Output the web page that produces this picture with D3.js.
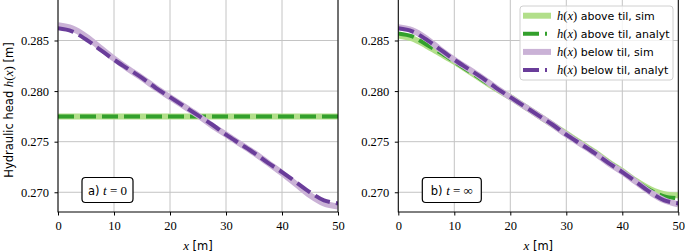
<!DOCTYPE html>
<html>
<head>
<meta charset="utf-8">
<script src="https://cdn.jsdelivr.net/npm/d3@7"></script>
<style>
  body { margin: 0; background: #fff; }
  svg { display: block; }
  .tick-lbl { font-family: "Liberation Serif", serif; font-size: 12.5px; fill: #000; }
  .sans { font-family: "DejaVu Sans", sans-serif; }
  .math { font-family: "Liberation Serif", serif; font-style: italic; }
</style>
</head>
<body>
<div id="chart"></div>
<script>
// ---- data ----
const xs = [0, 2.5, 5, 7.5, 10, 12.5, 15, 17.5, 20, 22.5, 25, 27.5, 30, 32.5, 35, 37.5, 40, 42.5, 45, 47.5, 50];

// panel a) t = 0
const aboveX0 = [0, 50];
const aboveSimT0 = [0.2775, 0.2775];
const aboveAnalytT0 = [0.2775, 0.2775];
const belowSimT0 = [0.2865, 0.2862, 0.2854, 0.2843, 0.2832, 0.2822, 0.2813, 0.2803, 0.2794, 0.2785, 0.2776,
                    0.2766, 0.2757, 0.2748, 0.2739, 0.2729, 0.2719, 0.2708, 0.2697, 0.2689, 0.2686];
const belowAnalytT0 = [0.2862, 0.2859, 0.2851, 0.2841, 0.2831, 0.2822, 0.2813, 0.2803, 0.2794, 0.2785, 0.2776,
                       0.2767, 0.2757, 0.2748, 0.2739, 0.2729, 0.2720, 0.2710, 0.2700, 0.2692, 0.2689];

// panel b) t = inf
const aboveSimInf = [0.2855, 0.2852, 0.2845, 0.2837, 0.2829, 0.2820, 0.2811, 0.2802, 0.2794, 0.2785, 0.2776,
                     0.2767, 0.2758, 0.2749, 0.2740, 0.2730, 0.2721, 0.2711, 0.2703, 0.2698, 0.2697];
const aboveAnalytInf = [0.2857, 0.2854, 0.2846, 0.2838, 0.2829, 0.2820, 0.2811, 0.2802, 0.2794, 0.2785, 0.2776,
                        0.2767, 0.2758, 0.2749, 0.2740, 0.2730, 0.2721, 0.2711, 0.2702, 0.2696, 0.2694];
const belowSimInf = [0.2863, 0.2860, 0.2852, 0.2841, 0.2831, 0.2822, 0.2813, 0.2803, 0.2794, 0.2785, 0.2776,
                     0.2767, 0.2757, 0.2748, 0.2739, 0.2729, 0.2720, 0.2710, 0.2700, 0.2692, 0.2688];
const belowAnalytInf = [0.2862, 0.2859, 0.2851, 0.2841, 0.2831, 0.2822, 0.2813, 0.2803, 0.2794, 0.2785, 0.2776,
                        0.2767, 0.2757, 0.2748, 0.2739, 0.2729, 0.2720, 0.2710, 0.2700, 0.2692, 0.2689];

const xTicks = [0, 10, 20, 30, 40, 50];
const yTicks = [0.270, 0.275, 0.280, 0.285];
const xDomain = [0, 50];
const yDomain = [0.26805, 0.2892];

const seriesNames = ["above til, sim", "above til, analyt", "below til, sim", "below til, analyt"];

// ---- styles ----
const styles = [
  { color: "#b2df8a", width: 6, dash: null },
  { color: "#33a02c", width: 4, dash: "16,6" },
  { color: "#cab2d6", width: 6, dash: null },
  { color: "#6a3d9a", width: 4, dash: "16,6" }
];

const width = 685, height = 252;
const plotTop = -2, plotBottom = 212;

const panels = [
  { left: 58, right: 338, label: "a)", tail: "= 0",
    series: [[aboveX0, aboveSimT0], [aboveX0, aboveAnalytT0], [xs, belowSimT0], [xs, belowAnalytT0]] },
  { left: 398.3, right: 678.3, label: "b)", tail: "= \u221E",
    series: [[xs, aboveSimInf], [xs, aboveAnalytInf], [xs, belowSimInf], [xs, belowAnalytInf]] }
];

const svg = d3.select("#chart").append("svg")
  .attr("width", width)
  .attr("height", height);

const y = d3.scaleLinear().domain(yDomain).range([plotBottom, plotTop]);

panels.forEach((p, pi) => {
  const x = d3.scaleLinear().domain(xDomain).range([p.left, p.right]);
  const g = svg.append("g");

  // grid
  g.selectAll(".gx").data(xTicks).enter().append("line")
    .attr("x1", d => x(d)).attr("x2", d => x(d))
    .attr("y1", plotTop).attr("y2", plotBottom)
    .attr("stroke", "#c4c4c4").attr("stroke-width", 1);
  g.selectAll(".gy").data(yTicks).enter().append("line")
    .attr("x1", p.left).attr("x2", p.right)
    .attr("y1", d => y(d)).attr("y2", d => y(d))
    .attr("stroke", "#c4c4c4").attr("stroke-width", 1);

  // clip
  const clipId = "clip" + pi;
  svg.append("clipPath").attr("id", clipId)
    .append("rect").attr("x", p.left).attr("y", plotTop)
    .attr("width", p.right - p.left).attr("height", plotBottom - plotTop);

  const line = d3.line()
    .x(d => x(d[0]))
    .y(d => y(d[1]))
    .curve(d3.curveCatmullRom);

  const lines = g.append("g").attr("clip-path", `url(#${clipId})`);
  p.series.forEach((s, i) => {
    const pts = s[0].map((xv, k) => [xv, s[1][k]]);
    lines.append("path")
      .attr("d", line(pts))
      .attr("fill", "none")
      .attr("stroke", styles[i].color)
      .attr("stroke-width", styles[i].width)
      .attr("stroke-dasharray", styles[i].dash);
  });

  // frame
  g.append("rect")
    .attr("x", p.left).attr("y", plotTop)
    .attr("width", p.right - p.left).attr("height", plotBottom - plotTop)
    .attr("fill", "none").attr("stroke", "#000").attr("stroke-width", 1);

  // axes ticks
  const xAxis = d3.axisBottom(x).tickValues(xTicks).tickSize(3.5).tickPadding(6).tickFormat(d3.format("d"));
  const ax = g.append("g").attr("transform", `translate(0,${plotBottom})`).call(xAxis);
  const yAxis = d3.axisLeft(y).tickValues(yTicks).tickSize(3.5).tickPadding(5.5).tickFormat(d3.format(".3f"));
  const ay = g.append("g").attr("transform", `translate(${p.left},0)`).call(yAxis);
  [ax, ay].forEach(a => {
    a.select(".domain").remove();
    a.selectAll("line").attr("stroke", "#000");
    a.selectAll("text").attr("class", "tick-lbl").attr("font-size", null).attr("font-family", null);
  });

  // x label
  const xl = g.append("text")
    .attr("x", (p.left + p.right) / 2).attr("y", 250)
    .attr("text-anchor", "middle").attr("font-size", 13);
  xl.append("tspan").attr("class", "math").text("x");
  xl.append("tspan").attr("class", "sans").attr("font-size", 11.5).text(" [m]");

  // annotation box
  const bx = p.left + 24;
  const bw = pi === 0 ? 51 : 59;
  g.append("rect")
    .attr("x", bx).attr("y", 177.5).attr("width", bw).attr("height", 25)
    .attr("rx", 3.5).attr("fill", "#fff").attr("stroke", "#000").attr("stroke-width", 1.2);
  const at = g.append("text")
    .attr("x", bx + bw / 2).attr("y", 194.5).attr("text-anchor", "middle").attr("font-size", 13);
  at.append("tspan").attr("class", "sans").attr("font-size", 11.5).text(p.label + " ");
  at.append("tspan").attr("class", "math").text("t");
  at.append("tspan").attr("font-family", "Liberation Serif, serif").text(" " + p.tail);
});

// y label
const yl = svg.append("text")
  .attr("transform", "translate(13,110) rotate(-90)")
  .attr("text-anchor", "middle").attr("font-size", 11.5);
yl.append("tspan").attr("class", "sans").text("Hydraulic head ");
yl.append("tspan").attr("class", "math").attr("font-size", 13).text("h");
yl.append("tspan").attr("font-family", "Liberation Serif, serif").attr("font-size", 13).text("(");
yl.append("tspan").attr("class", "math").attr("font-size", 13).text("x");
yl.append("tspan").attr("font-family", "Liberation Serif, serif").attr("font-size", 13).text(")");
yl.append("tspan").attr("class", "sans").text(" [m]");

// legend
const legend = svg.append("g").attr("transform", "translate(520,6)");
legend.append("rect")
  .attr("width", 153).attr("height", 74).attr("rx", 3)
  .attr("fill", "#fff").attr("fill-opacity", 0.8)
  .attr("stroke", "#d0d0d0").attr("stroke-width", 1);

const items = legend.selectAll(".legend-item")
  .data(seriesNames)
  .enter().append("g")
  .attr("class", "legend-item")
  .attr("transform", (d, i) => `translate(0, ${9.7 + i * 18.1})`);

items.append("line")
  .attr("x1", 3).attr("x2", (d, i) => styles[i].dash ? 27 : 31)
  .attr("y1", 0).attr("y2", 0)
  .attr("stroke", (d, i) => styles[i].color)
  .attr("stroke-width", (d, i) => styles[i].width)
  .attr("stroke-dasharray", (d, i) => styles[i].dash);

const lt = items.append("text").attr("x", 37).attr("y", 4).attr("font-size", 12.5);
lt.append("tspan").attr("class", "math").text("h");
lt.append("tspan").attr("font-family", "Liberation Serif, serif").text("(");
lt.append("tspan").attr("class", "math").text("x");
lt.append("tspan").attr("font-family", "Liberation Serif, serif").text(")");
lt.append("tspan").attr("class", "sans").attr("font-size", 11).text(d => " " + d);
</script>
</body>
</html>
